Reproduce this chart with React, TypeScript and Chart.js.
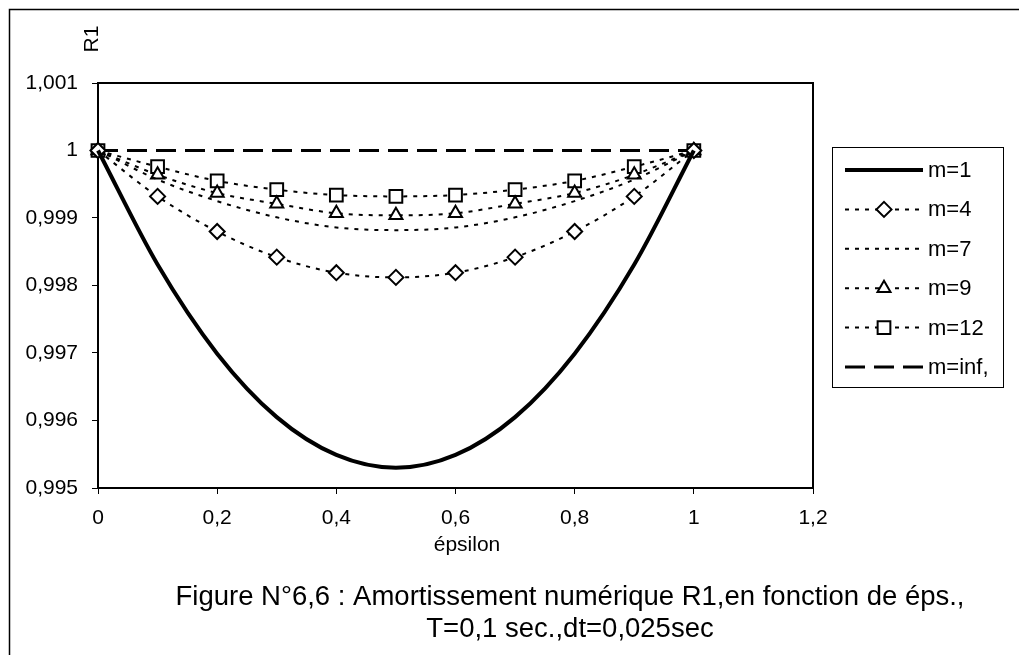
import React, { useEffect, useRef } from 'react';
import { Chart, registerables } from 'chart.js';

Chart.register(...registerables);

const epsilon = [0, 0.1, 0.2, 0.3, 0.4, 0.5, 0.6, 0.7, 0.8, 0.9, 1];
const m1 = [1, 0.99831, 0.99699, 0.99605, 0.99549, 0.9953, 0.99549, 0.99605, 0.99699, 0.99831, 1];
const m4 = [1, 0.99932, 0.9988, 0.99842, 0.99819, 0.99812, 0.99819, 0.99842, 0.9988, 0.99932, 1];
const m7 = [1, 0.99957, 0.99925, 0.99901, 0.99886, 0.99882, 0.99886, 0.99901, 0.99925, 0.99957, 1];
const m9 = [1, 0.99964, 0.99937, 0.99921, 0.99907, 0.99904, 0.99907, 0.99921, 0.99937, 0.99964, 1];
const m12 = [1, 0.99976, 0.99955, 0.99942, 0.99934, 0.99932, 0.99934, 0.99942, 0.99955, 0.99976, 1];
const mInf = [1, 1, 1, 1, 1, 1, 1, 1, 1, 1, 1];

const seriesNames = ['m=1', 'm=4', 'm=7', 'm=9', 'm=12', 'm=inf,'];
const xTickValues = [0, 0.2, 0.4, 0.6, 0.8, 1, 1.2];
const yTickValues = [0.995, 0.996, 0.997, 0.998, 0.999, 1, 1.001];

const xTitle = 'épsilon';
const yTitle = 'R1';
const titleLines = [
  'Figure N°6,6 : Amortissement numérique R1,en fonction de éps.,',
  'T=0,1 sec.,dt=0,025sec',
];

const FONT = '"Liberation Sans", Arial, sans-serif';

const fmt = (v: number, d: number) => {
  let s = (+v).toFixed(d);
  if (s.indexOf('.') >= 0) s = s.replace(/0+$/, '').replace(/\.$/, '');
  return s.replace('.', ',');
};

function drawMarker(ctx: CanvasRenderingContext2D, style: string, x: number, y: number, r: number) {
  ctx.beginPath();
  if (style === 'rectRot') {
    ctx.moveTo(x, y - r);
    ctx.lineTo(x + r, y);
    ctx.lineTo(x, y + r);
    ctx.lineTo(x - r, y);
    ctx.closePath();
  } else if (style === 'triangle') {
    ctx.moveTo(x, y - r);
    ctx.lineTo(x + r * 0.866, y + r * 0.5);
    ctx.lineTo(x - r * 0.866, y + r * 0.5);
    ctx.closePath();
  } else if (style === 'rect') {
    const s = r * Math.SQRT1_2;
    ctx.rect(x - s, y - s, 2 * s, 2 * s);
  }
  ctx.fillStyle = '#fff';
  ctx.fill();
  ctx.stroke();
}

const decoPlugin = {
  id: 'deco',
  beforeDatasetsDraw(chart: any) {
    const { ctx, chartArea: a } = chart;
    ctx.save();
    ctx.strokeStyle = '#000';
    ctx.lineWidth = 2;
    ctx.strokeRect(a.left, a.top, a.right - a.left, a.bottom - a.top);
    ctx.restore();
  },
  afterDraw(chart: any) {
    const ctx: CanvasRenderingContext2D = chart.ctx;
    ctx.save();
    // outer chart border (left and top visible)
    ctx.strokeStyle = '#000';
    ctx.lineWidth = 1.5;
    ctx.beginPath();
    ctx.moveTo(9.5, 660);
    ctx.lineTo(9.5, 9.5);
    ctx.lineTo(1030, 9.5);
    ctx.stroke();

    // axis titles
    ctx.fillStyle = '#000';
    ctx.font = `21px ${FONT}`;
    ctx.textAlign = 'center';
    ctx.textBaseline = 'alphabetic';
    ctx.fillText(xTitle, 467, 551);
    ctx.save();
    ctx.translate(98, 39);
    ctx.rotate(-Math.PI / 2);
    ctx.textBaseline = 'alphabetic';
    ctx.fillText(yTitle, 0, 0);
    ctx.restore();

    // figure caption
    ctx.font = `27.5px ${FONT}`;
    ctx.textAlign = 'center';
    ctx.fillText(titleLines[0], 570, 605);
    ctx.fillText(titleLines[1], 570, 637);

    // legend
    ctx.lineWidth = 1;
    ctx.strokeStyle = '#000';
    ctx.setLineDash([]);
    ctx.strokeRect(832.5, 147.5, 171, 240);
    const dsets = chart.data.datasets;
    ctx.font = `22px ${FONT}`;
    ctx.textAlign = 'left';
    ctx.textBaseline = 'middle';
    dsets.forEach((ds: any, i: number) => {
      const y = 170 + i * 39.4;
      ctx.save();
      ctx.strokeStyle = '#000';
      ctx.lineWidth = ds.borderWidth;
      ctx.setLineDash(ds.borderDash || []);
      ctx.beginPath();
      ctx.moveTo(845, y);
      ctx.lineTo(923, y);
      ctx.stroke();
      if (ds.pointRadius > 0) {
        ctx.setLineDash([]);
        ctx.lineWidth = ds.pointBorderWidth;
        drawMarker(ctx, ds.pointStyle, 884, y, ds.pointRadius);
      }
      ctx.restore();
      ctx.fillStyle = '#000';
      ctx.fillText(ds.label, 928, y + 1);
    });
    ctx.restore();
  },
};

export default function App() {
  const ref = useRef<HTMLCanvasElement>(null);

  useEffect(() => {
    if (!ref.current) return;
    const mk = (label: string, data: number[], extra: any) => ({
      label,
      data: epsilon.map((x, i) => ({ x, y: data[i] })),
      borderColor: '#000',
      backgroundColor: '#fff',
      pointBackgroundColor: '#fff',
      pointBorderColor: '#000',
      pointBorderWidth: 2,
      pointRadius: 0,
      fill: false,
      clip: false,
      cubicInterpolationMode: 'monotone',
      ...extra,
    });
    const dot = [4, 6];
    const chart = new Chart(ref.current, {
      type: 'line',
      data: {
        datasets: [
          mk(seriesNames[0], m1, { borderWidth: 4 }),
          mk(seriesNames[1], m4, { borderWidth: 2, borderDash: dot, pointStyle: 'rectRot', pointRadius: 7.5 }),
          mk(seriesNames[2], m7, { borderWidth: 2, borderDash: dot }),
          mk(seriesNames[3], m9, { borderWidth: 2, borderDash: dot, pointStyle: 'triangle', pointRadius: 7.5 }),
          mk(seriesNames[4], m12, { borderWidth: 2, borderDash: dot, pointStyle: 'rect', pointRadius: 9 }),
          mk(seriesNames[5], mInf, { borderWidth: 3, borderDash: [20, 9] }),
        ] as any,
      },
      plugins: [decoPlugin],
      options: {
        animation: false,
        responsive: false,
        maintainAspectRatio: false,
        devicePixelRatio: 1,
        events: [],
        layout: { padding: { left: 0, right: 206, top: 83, bottom: 117 } },
        plugins: { legend: { display: false }, title: { display: false }, tooltip: { enabled: false } },
        scales: {
          x: {
            type: 'linear',
            min: 0,
            max: 1.2,
            afterBuildTicks: (s: any) => { s.ticks = xTickValues.map((v) => ({ value: v })); },
            afterFit: (s: any) => { s.height = 50; },
            grid: { display: true, drawOnChartArea: false, drawTicks: true, tickLength: 6, color: '#000', lineWidth: 1 },
            border: { display: true, color: '#000', width: 2 },
            ticks: {
              color: '#000',
              font: { family: FONT, size: 21 },
              padding: 12,
              maxRotation: 0,
              autoSkip: false,
              callback: (v: any) => fmt(v, 1),
            },
          },
          y: {
            type: 'linear',
            min: 0.995,
            max: 1.001,
            afterBuildTicks: (s: any) => { s.ticks = yTickValues.map((v) => ({ value: v })); },
            afterFit: (s: any) => { s.width = 98; },
            grid: { display: true, drawOnChartArea: false, drawTicks: true, tickLength: 6, color: '#000', lineWidth: 1 },
            border: { display: true, color: '#000', width: 2 },
            ticks: {
              color: '#000',
              font: { family: FONT, size: 21 },
              padding: 14,
              autoSkip: false,
              callback: (v: any) => fmt(v, 3),
            },
          },
        },
      } as any,
    });
    return () => chart.destroy();
  }, []);

  return (
    <div style={{ position: 'fixed', left: 0, top: 0, width: 1019, height: 655, background: '#fff' }}>
      <canvas ref={ref} width={1019} height={655} style={{ display: 'block', width: 1019, height: 655 }} />
    </div>
  );
}
